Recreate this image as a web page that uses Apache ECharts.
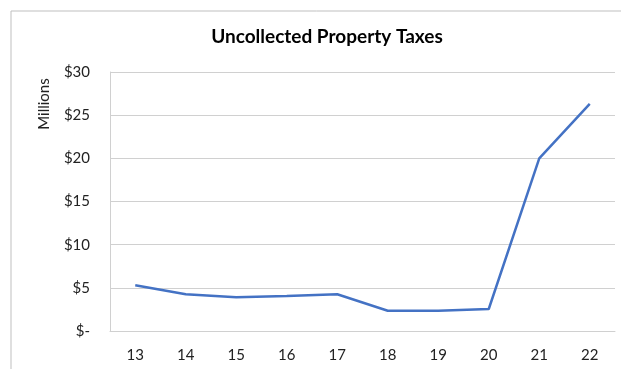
<!DOCTYPE html>
<html><head><meta charset="utf-8">
<script src="https://cdn.jsdelivr.net/npm/echarts@6/dist/echarts.min.js"></script>
<style>html,body{margin:0;padding:0;background:#fff}#c{width:621px;height:369px}</style>
</head><body><div id="c"></div>
<script>
var categories = ['13','14','15','16','17','18','19','20','21','22'];
var values = [5.3, 4.25, 3.9, 4.05, 4.25, 2.35, 2.35, 2.55, 20.0, 26.3];
var yTicks = [0, 5, 10, 15, 20, 25, 30];

var chart = echarts.init(document.getElementById('c'));
chart.setOption({
  animation: false,
  backgroundColor: '#fff',
  title: {
    text: 'Uncollected Property Taxes',
    left: 322, top: 22, textAlign: 'center',
    textStyle: {fontFamily: 'Lato', fontWeight: 'bold', fontSize: 19, color: '#000'}
  },
  graphic: [{
    type: 'rect', shape: {x: 11, y: 11, width: 700, height: 400},
    style: {fill: 'none', stroke: '#bfbfbf', lineWidth: 1}
  }, {
    type: 'text', x: 44, y: 104, rotation: Math.PI/2,
    style: {text: 'Millions', fontFamily: 'Lato', fontSize: 15, fill: '#222', align: 'center', verticalAlign: 'middle'}
  }],
  grid: {left: 110, right: 6, top: 72, bottom: 38},
  xAxis: {
    type: 'category', data: categories, boundaryGap: true,
    axisLine: {lineStyle: {color: '#d0d0d0', width: 1}},
    axisTick: {show: false},
    axisLabel: {fontFamily: 'Lato', fontSize: 15, color: '#222', margin: 17}
  },
  yAxis: {
    type: 'value', min: yTicks[0], max: yTicks[yTicks.length-1], interval: 5,
    axisLine: {show: true, lineStyle: {color: '#d0d0d0', width: 1}},
    axisTick: {show: false},
    splitLine: {lineStyle: {color: '#d0d0d0', width: 1}},
    axisLabel: {fontFamily: 'Lato', fontSize: 15, color: '#222', margin: 20,
      formatter: function(v){ return v === 0 ? '$-' : '$' + v; }}
  },
  series: [{
    type: 'line', data: values, showSymbol: false,
    lineStyle: {color: '#4472C4', width: 2.5},
    itemStyle: {color: '#4472C4'}
  }]
});
</script></body></html>
